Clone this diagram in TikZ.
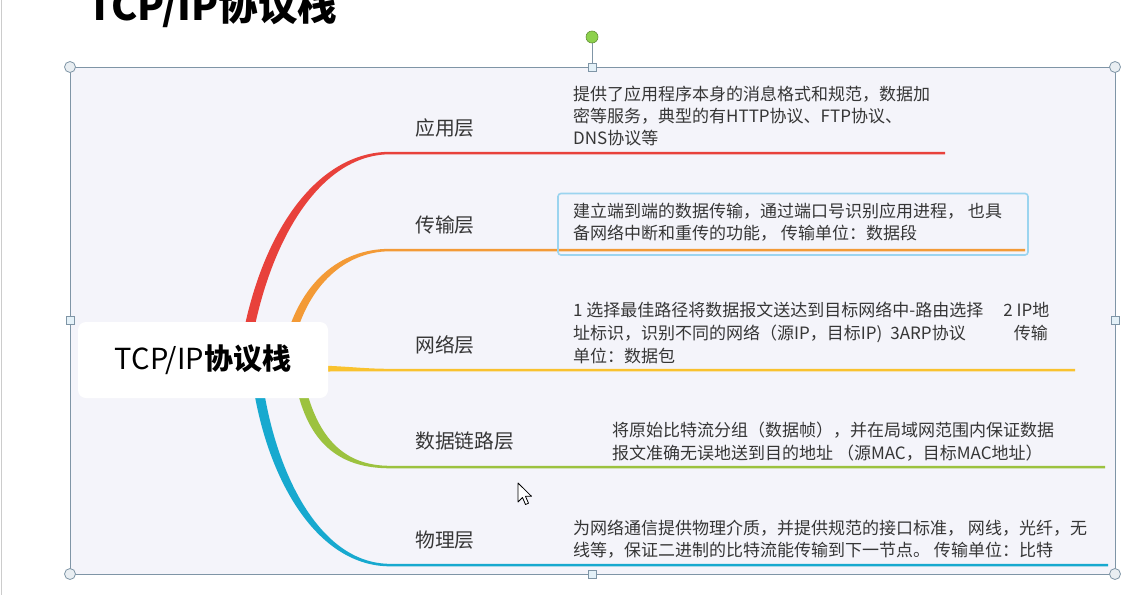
\documentclass[tikz,border=0pt]{standalone}
\usepackage{fontspec}
\setmainfont{Noto Sans CJK SC}
\definecolor{frame}{HTML}{7F95A6}
\definecolor{canvas}{HTML}{F4F4FA}
\definecolor{cred}{HTML}{E8413B}
\definecolor{corange}{HTML}{F39A36}
\definecolor{cyellow}{HTML}{F9C22E}
\definecolor{cgreen}{HTML}{9CC23F}
\definecolor{cblue}{HTML}{17A9CF}
\definecolor{txt}{HTML}{363636}
\definecolor{selbox}{HTML}{9BD4EF}
\definecolor{hfill}{HTML}{E9EEF2}
\definecolor{sqfill}{HTML}{E4F1F8}
\definecolor{hgreen}{HTML}{8DD14C}
\begin{document}
\begin{tikzpicture}[x=1pt,y=-1pt,
  lbl/.style={anchor=base west,inner sep=0,font=\fontsize{19.8}{22}\selectfont,text=txt},
  desc/.style={anchor=base west,inner sep=0,font=\fontsize{17}{20}\selectfont,text=txt},
  handle/.style={circle,draw=frame,fill=hfill,minimum size=11pt,inner sep=0,line width=0.8pt},
  sqhandle/.style={rectangle,draw=frame,fill=sqfill,minimum size=8pt,inner sep=0,line width=0.8pt}]
\useasboundingbox (0,0) rectangle (1148,595);
\clip (0,0) rectangle (1148,595);
\fill[white] (0,0) rectangle (1148,595);
\draw[black!20, line width=1.2pt] (1.5,0) -- (1.5,595);
\node[anchor=base west, inner sep=0, font=\fontsize{39.5}{42}\selectfont\bfseries] (title) at (87,20) {TCP/IP协议栈};
% canvas
\fill[canvas] (70,67) rectangle (1115,574);
% branches
\coordinate (e1) at (945,153);
\coordinate (e2) at (1025,250);
\coordinate (e3) at (1075,370);
\coordinate (e4) at (1105,467);
\coordinate (e5) at (1108,565);
\fill[cred] (242,340) .. controls (262,230) and (318,151.8) .. (390,151.8) -- (e1 |- 0,151.8) -- (e1 |- 0,154.3) -- (390,154.3) .. controls (324,154.3) and (272,232) .. (252,340) -- cycle;
\fill[corange] (287,335) .. controls (302,284) and (338,248.8) .. (390,248.8) -- (e2 |- 0,248.8) -- (e2 |- 0,251.3) -- (390,251.3) .. controls (343,251.3) and (309,288) .. (296,335) -- cycle;
\fill[cyellow] (320,365.5) .. controls (350,366.5) and (365,368.8) .. (390,368.8) -- (e3 |- 0,368.8) -- (e3 |- 0,371.3) -- (390,371.3) .. controls (365,371.3) and (350,371.5) .. (320,371.5) -- cycle;
\fill[cgreen] (305,385) .. controls (318,438) and (344,465.8) .. (390,465.8) -- (e4 |- 0,465.8) -- (e4 |- 0,468.3) -- (390,468.3) .. controls (338,468.3) and (308,442) .. (296,385) -- cycle;
\fill[cblue] (263,385) .. controls (277,478) and (322,563.8) .. (390,563.8) -- (e5 |- 0,563.8) -- (e5 |- 0,566.3) -- (390,566.3) .. controls (318,566.3) and (268,482) .. (253,385) -- cycle;
% root
\node[rectangle, rounded corners=8pt, fill=white, minimum width=250pt, minimum height=76pt, inner sep=0] (root) at (203,360) {\fontsize{29}{32}\selectfont TCP/IP\textbf{协议栈}};
% layer labels
\node[lbl] (l1) at (415,135) {应用层};
\node[lbl] (l2) at (415,232) {传输层};
\node[lbl] (l3) at (415,352) {网络层};
\node[lbl] (l4) at (415,448) {数据链路层};
\node[lbl] (l5) at (415,547) {物理层};
% descriptions
\node[desc] (d1a) at (573,100) {提供了应用程序本身的消息格式和规范，数据加};
\node[desc] (d1b) at (573,122) {密等服务，典型的有HTTP协议、FTP协议、};
\node[desc] (d1c) at (573,144) {DNS协议等};
\draw[selbox, line width=1.6pt, rounded corners=3pt] (558,193.5) rectangle (1028,255);
\node[desc] (d2a) at (573,217) {建立端到端的数据传输，通过端口号识别应用进程， 也具};
\node[desc] (d2b) at (573,239) {备网络中断和重传的功能， 传输单位：数据段};
\node[desc] (d3a) at (573,316) {1 选择最佳路径将数据报文送达到目标网络中-路由选择\hspace{20pt}2 IP地};
\node[desc] (d3b) at (573,339) {址标识，识别不同的网络（源IP，目标IP)\hspace{8pt}3ARP协议\hspace{48pt}传输};
\node[desc] (d3c) at (573,362) {单位：数据包};
\node[desc] (d4a) at (612,436) {将原始比特流分组（数据帧），并在局域网范围内保证数据};
\node[desc] (d4b) at (612,459) {报文准确无误地送到目的地址 （源MAC，目标MAC地址）};
\node[desc] (d5a) at (573,534) {为网络通信提供物理介质，并提供规范的接口标准， 网线，光纤，无};
\node[desc] (d5b) at (573,556) {线等，保证二进制的比特流能传输到下一节点。 传输单位：比特};
% selection frame
\draw[frame, line width=1pt] (70,67) rectangle (1115,574);
\coordinate (rot) at (592,37);
\draw[frame, line width=1pt] (592,67) -- (rot);
\node[circle, draw=hgreen!70!black, fill=hgreen, minimum size=12pt, inner sep=0, line width=0.6pt] (rh) at (rot) {};
\node[handle] (c1) at (70,67) {};
\node[handle] (c2) at (1115,67) {};
\node[handle] (c3) at (70,574) {};
\node[handle] (c4) at (1115,574) {};
\node[sqhandle] (s1) at (592,67) {};
\node[sqhandle] (s2) at (70,320) {};
\node[sqhandle] (s3) at (1115,320) {};
\node[sqhandle] (s4) at (592,574) {};
% mouse cursor
\filldraw[fill=white, draw=black, line width=0.8pt, line join=round] (518,483) -- (518,502) -- (522.5,497.5) -- (525.5,504.5) -- (528.5,503.2) -- (525.5,496.3) -- (531.5,496.3) -- cycle;
\end{tikzpicture}
\end{document}
